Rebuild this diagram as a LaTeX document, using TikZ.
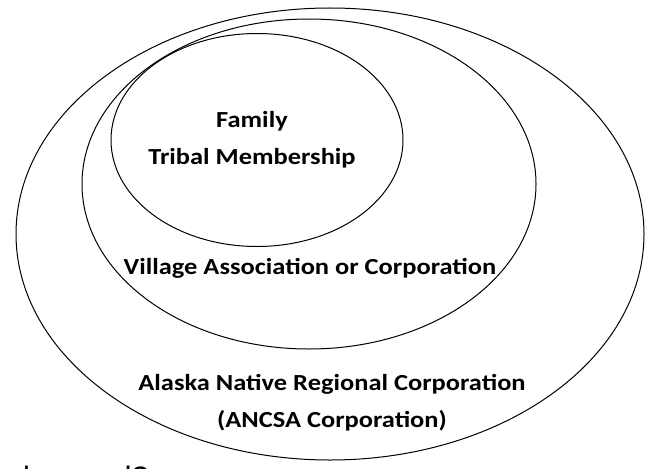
\documentclass[tikz,border=0pt]{standalone}
\usepackage{fontspec}
\setmainfont{Carlito}
\newfontfamily\fragfont{Liberation Sans}
\usepackage{tikz}

\tikzset{
  ring/.style={draw=black, line width=1pt},
  circlelabel/.style={font=\bfseries\fontsize{23}{37}\selectfont, align=center, inner sep=0pt, anchor=base, xscale=1.15},
}

\begin{document}
\begin{tikzpicture}[x=1pt, y=-1pt]
\useasboundingbox (0,0) rectangle (652,468);
% nested groups
\draw[ring] (330,234) ellipse [x radius=314pt, y radius=226pt];
\draw[ring] (309,184) ellipse [x radius=227pt, y radius=165pt];
\draw[ring] (257,140) ellipse [x radius=146pt, y radius=106.5pt];
\node[circlelabel] (family) at (252,164) {Family\\Tribal Membership};
\node[circlelabel] (village) at (310,274) {Village Association or Corporation};
\node[circlelabel] (regional) at (332,427) {Alaska Native Regional Corporation\\(ANCSA Corporation)};
% cut-off heading below the picture
\begin{scope}
\clip (0,0) rectangle (652,468);
\node[font=\fragfont\fontsize{31}{31}\selectfont, anchor=base west, inner sep=0pt] (heading) at (23,488) {lowered?};
\end{scope}
\end{tikzpicture}
\end{document}
